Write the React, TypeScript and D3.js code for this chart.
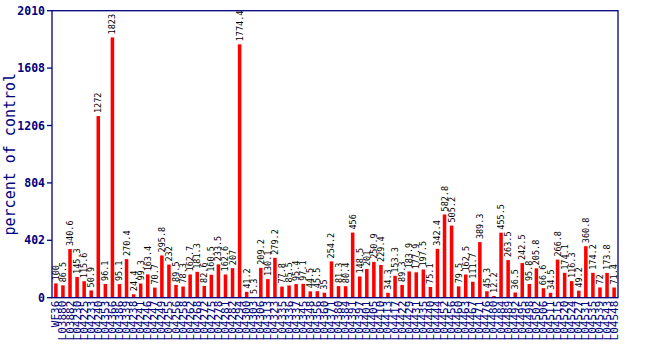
import React from "react";
import * as d3 from "d3";

const categories: string[] = [
  "WF36", "L03880", "L03882", "L04230", "L04225", "L04233", "L04240", "L04353", "L04366", "L04386",
  "L04339", "L04238", "L04241", "L04246", "L04247", "L04249", "L04255", "L04256", "L04258", "L04262",
  "L04268", "L04272", "L04275", "L04278", "L04281", "L04282", "L04294", "L04300", "L04303", "L04306",
  "L04313", "L04323", "L04335", "L04336", "L04337", "L04345", "L04348", "L04356", "L04360", "L04371",
  "L04380", "L04384", "L04391", "L04397", "L04401", "L04405", "L04410", "L04413", "L04417", "L04422",
  "L04429", "L04431", "L04435", "L04440", "L04444", "L04452", "L04456", "L04460", "L04463", "L04467",
  "L04471", "L04476", "L04480", "L04484", "L04489", "L04492", "L04495", "L04498", "L04502", "L04506",
  "L04511", "L04515", "L04520", "L04524", "L04527", "L04531", "L04535", "L04539", "L04543", "L04548",
];

const values: number[] = [
  100, 86.5, 340.6, 145.3, 115.6, 50.9, 1272, 96.1, 1823, 95.1,
  270.4, 24.4, 99.3, 163.4, 70.7, 295.8, 232, 89.5, 78.3, 162.7,
  181.3, 82.6, 160.5, 233.5, 162.6, 207, 1774.4, 41.2, 5.3, 209.2,
  130.1, 279.2, 77.8, 85.5, 95.4, 97.1, 44.5, 45.5, 35, 254.2,
  81.3, 80.4, 456, 148.5, 201, 250.9, 229.4, 34.3, 153.3, 89.3,
  183.9, 177.9, 197.5, 75.1, 342.4, 582.8, 505.2, 79.5, 162.5, 111.7,
  389.3, 45.3, 12.2, 455.5, 263.5, 36.5, 242.5, 95.8, 205.8, 66.6,
  34.5, 266.8, 174.1, 116.3, 49.2, 360.8, 174.2, 72, 173.8, 71.4,
];

const yTicks: number[] = [0, 402, 804, 1206, 1608, 2010];

export default function App() {
  const W = 650, H = 350;
  const left = 52, right = 618, top = 10.7, bottom = 297.7;
  const navy = "#000080";
  const mono = "'DejaVu Sans Mono', 'Liberation Mono', monospace";

  const x = d3.scaleBand<string>().domain(categories).range([left, right]).paddingInner(0.5).paddingOuter(0.3);
  const y = d3.scaleLinear().domain([0, 2010]).range([bottom, top]);
  const bw = x.bandwidth();

  return (
    <svg width={W} height={H} style={{ position: "absolute", left: 0, top: 0 }}>
      <rect x={0} y={0} width={W} height={H} fill="white" />
      {categories.map((c, i) => {
        const v = values[i];
        const bx = x(c)!;
        return (
          <g key={c + i}>
            <rect x={bx} y={y(v)} width={bw} height={bottom - y(v)} fill="#ff0000" />
            <text
              transform={`translate(${bx + bw / 2 + 3},${y(v) - 3}) rotate(-90)`}
              fontFamily={mono}
              fontSize={8.5}
              fill="black"
            >
              {String(v)}
            </text>
            <text
              transform={`translate(${bx + bw / 2 + 3.5},${bottom + 3}) rotate(-90)`}
              textAnchor="end"
              fontFamily={mono}
              fontSize={11}
              fill={navy}
            >
              {c}
            </text>
          </g>
        );
      })}
      <rect x={left} y={top} width={right - left} height={bottom - top} fill="none" stroke={navy} strokeWidth={1.3} />
      {yTicks.map((t) => (
        <g key={t}>
          <line x1={left - 5} x2={left} y1={y(t)} y2={y(t)} stroke={navy} strokeWidth={1.3} />
          <text x={left - 7} y={y(t)} dy="0.35em" textAnchor="end" fontFamily={mono} fontSize={11.5} fontWeight="bold" fill={navy}>
            {t}
          </text>
        </g>
      ))}
      <text
        transform={`translate(15,${(top + bottom) / 2}) rotate(-90)`}
        textAnchor="middle"
        fontFamily={mono}
        fontSize={15}
        fill={navy}
      >
        percent of control
      </text>
    </svg>
  );
}
